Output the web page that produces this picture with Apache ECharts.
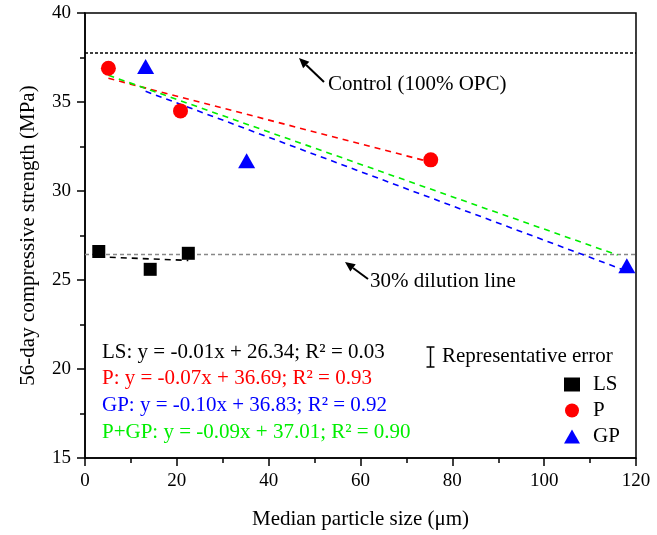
<!DOCTYPE html>
<html>
<head>
<meta charset="utf-8">
<script src="https://cdn.jsdelivr.net/npm/echarts@6/dist/echarts.min.js"></script>
<style>
  html, body { margin: 0; padding: 0; background: #fff; }
  #chart { width: 657px; height: 535px; }
</style>
</head>
<body>
<div id="chart"></div>
<script>
// measured points (median particle size um, strength MPa)
const lsX = [3.0, 14.2, 22.5];
const lsY = [26.6, 25.6, 26.5];
const pX = [5.1, 20.8, 75.3];
const pY = [36.9, 34.5, 31.75];
const gpX = [13.2, 35.2, 118];
const gpY = [37.0, 31.7, 25.8];

// fitted lines, start and end
const lsFit = [[3.0, 26.3], [22.5, 26.1]];
const pFit = [[5.1, 36.33], [75.3, 31.62]];
const gpFit = [[13.2, 35.6], [118, 25.5]];
const pgpFit = [[5.1, 36.5], [116, 26.4]];

const controlY = 37.75;
const dilutionY = 26.43;

const xTicks = [0, 20, 40, 60, 80, 100, 120];
const yTicks = [15, 20, 25, 30, 35, 40];

const equations = [
  { text: 'LS: y = -0.01x + 26.34; R\u00b2 = 0.03', color: '#000000' },
  { text: 'P: y = -0.07x + 36.69; R\u00b2 = 0.93', color: '#ff0000' },
  { text: 'GP: y = -0.10x + 36.83; R\u00b2 = 0.92', color: '#0000ff' },
  { text: 'P+GP: y = -0.09x + 37.01; R\u00b2 = 0.90', color: '#00ee00' }
];

const font = 'Liberation Serif';

const zip = (xs, ys) => xs.map((x, i) => [x, ys[i]]);

function fitLine(name, data, color) {
  return {
    name: name,
    type: 'line',
    data: data,
    symbol: 'none',
    silent: true,
    lineStyle: { color: color, width: 1.6, type: [6, 5] },
    z: 2
  };
}

function arrow(x1, y1, x2, y2) {
  // x2,y2 is the tip
  const ang = Math.atan2(y2 - y1, x2 - x1);
  const len = 10, half = 4.5;
  const bx = x2 - len * Math.cos(ang), by = y2 - len * Math.sin(ang);
  const px = -Math.sin(ang) * half, py = Math.cos(ang) * half;
  return [
    { type: 'line', shape: { x1: x1, y1: y1, x2: bx, y2: by }, style: { stroke: '#000', lineWidth: 2 } },
    { type: 'polygon', shape: { points: [[x2, y2], [bx + px, by + py], [bx - px, by - py]] }, style: { fill: '#000' } }
  ];
}

const chart = echarts.init(document.getElementById('chart'));

const graphics = [];
equations.forEach((e, i) => {
  graphics.push({
    type: 'text', left: 102, top: 352.5 + i * 26.7 - 11,
    style: { text: e.text, fill: e.color, font: '21px "' + font + '"' }
  });
});
graphics.push({
  type: 'text', left: 328, top: 74,
  style: { text: 'Control (100% OPC)', fill: '#000', font: '21px "' + font + '"' }
});
graphics.push({
  type: 'text', left: 370, top: 271,
  style: { text: '30% dilution line', fill: '#000', font: '21px "' + font + '"' }
});
graphics.push({
  type: 'text', left: 442, top: 346,
  style: { text: 'Representative error', fill: '#000', font: '21px "' + font + '"' }
});
// error bar glyph
graphics.push(
  { type: 'line', shape: { x1: 430.5, y1: 347, x2: 430.5, y2: 367 }, style: { stroke: '#000', lineWidth: 1.5 } },
  { type: 'line', shape: { x1: 426.5, y1: 347, x2: 434.5, y2: 347 }, style: { stroke: '#000', lineWidth: 1.5 } },
  { type: 'line', shape: { x1: 426.5, y1: 367, x2: 434.5, y2: 367 }, style: { stroke: '#000', lineWidth: 1.5 } }
);
graphics.push(...arrow(324, 82, 299, 58));
graphics.push(...arrow(368, 279, 345, 262));

const option = {
  backgroundColor: '#ffffff',
  animation: false,
  textStyle: { fontFamily: font },
  grid: {
    left: 85, top: 13, right: 21, bottom: 75,
    show: true, borderColor: '#000', borderWidth: 1.5
  },
  legend: {
    orient: 'vertical',
    left: 559, top: 369,
    itemWidth: 16, itemHeight: 14, itemGap: 5,
    data: ['LS', 'P', 'GP'],
    textStyle: { fontFamily: font, fontSize: 21, color: '#000', padding: [0, 0, 0, 8] }
  },
  xAxis: {
    type: 'value',
    min: 0, max: 120, interval: 20,
    name: 'Median particle size (\u03bcm)',
    nameLocation: 'middle', nameGap: 51,
    nameTextStyle: { fontFamily: font, fontSize: 21, color: '#000' },
    axisLine: { show: true, lineStyle: { color: '#000', width: 1.5 } },
    axisTick: { show: true, length: 8, lineStyle: { color: '#000', width: 1.5 } },
    minorTick: { show: true, splitNumber: 2, length: 5, lineStyle: { color: '#000', width: 1.5 } },
    axisLabel: {
      fontFamily: font, fontSize: 19, color: '#000', margin: 14,
      customValues: xTicks
    },
    splitLine: { show: false }
  },
  yAxis: {
    type: 'value',
    min: 15, max: 40, interval: 5,
    name: '56-day compressive strength (MPa)',
    nameLocation: 'middle', nameGap: 46, nameRotate: 90,
    nameTextStyle: { fontFamily: font, fontSize: 21, color: '#000' },
    axisLine: { show: true, lineStyle: { color: '#000', width: 1.5 } },
    axisTick: { show: true, length: 8, lineStyle: { color: '#000', width: 1.5 } },
    minorTick: { show: true, splitNumber: 2, length: 5, lineStyle: { color: '#000', width: 1.5 } },
    axisLabel: {
      fontFamily: font, fontSize: 19, color: '#000', margin: 14,
      customValues: yTicks
    },
    splitLine: { show: false }
  },
  series: [
    {
      name: 'control', type: 'line', symbol: 'none', silent: true,
      data: [[0, controlY], [120, controlY]],
      lineStyle: { color: '#000', width: 1.5, type: [3, 2] }, z: 1
    },
    {
      name: 'dilution', type: 'line', symbol: 'none', silent: true,
      data: [[0, dilutionY], [120, dilutionY]],
      lineStyle: { color: '#888', width: 1.5, type: [4, 3] }, z: 1
    },
    fitLine('LS fit', lsFit, '#000000'),
    fitLine('P fit', pFit, '#ff0000'),
    fitLine('GP fit', gpFit, '#0000ff'),
    fitLine('P+GP fit', pgpFit, '#00ee00'),
    {
      name: 'LS', type: 'scatter', data: zip(lsX, lsY),
      symbol: 'rect', symbolSize: 13,
      itemStyle: { color: '#000', opacity: 1 }, z: 5
    },
    {
      name: 'P', type: 'scatter', data: zip(pX, pY),
      symbol: 'circle', symbolSize: 15,
      itemStyle: { color: '#ff0000', opacity: 1 }, z: 5
    },
    {
      name: 'GP', type: 'scatter', data: zip(gpX, gpY),
      symbol: 'triangle', symbolSize: [17, 15], clip: false,
      itemStyle: { color: '#0000ff', opacity: 1 }, z: 5
    }
  ],
  graphic: graphics
};

chart.setOption(option);
</script>
</body>
</html>
